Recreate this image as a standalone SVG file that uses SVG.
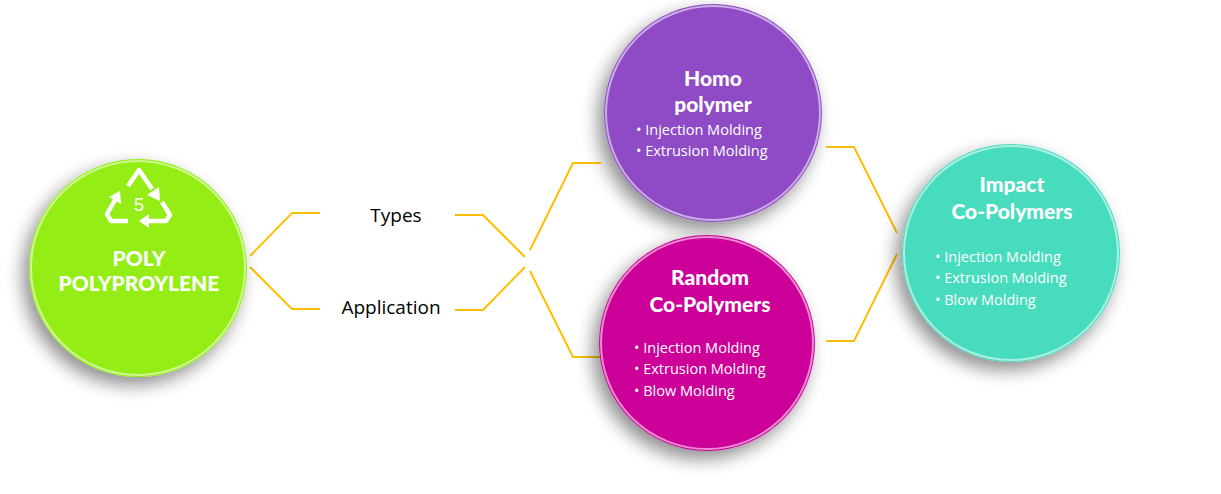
<svg xmlns="http://www.w3.org/2000/svg" width="1221" height="494" viewBox="0 0 1221 494">
<style>
.t{font-family:Lato,"Open Sans",sans-serif;font-weight:900;fill:#fff;text-anchor:middle;font-size:21px}
.b{font-family:"Open Sans","Liberation Sans",sans-serif;fill:#fff;font-size:14.5px}
.l{font-family:"Open Sans","Liberation Sans",sans-serif;fill:#000;font-size:19px;text-anchor:middle}
.c{fill:none;stroke:#FFBF00;stroke-width:2}
.rim{fill:none;stroke:#fff;stroke-opacity:.55;stroke-width:2}
</style>
<defs>
<filter id="sh" x="-30%" y="-30%" width="160%" height="160%">
<feGaussianBlur in="SourceAlpha" stdDeviation="9"/>
<feOffset dx="-6" dy="8"/>
<feComponentTransfer><feFuncA type="linear" slope="0.45"/></feComponentTransfer>
<feMerge><feMergeNode/><feMergeNode in="SourceGraphic"/></feMerge>
</filter>
</defs>
<g id="connectors">
<polyline class="c" points="250,256 292,213 320,213"/>
<polyline class="c" points="250,267 292,309 320,309"/>
<polyline class="c" points="455,215 483,215 525,257"/>
<polyline class="c" points="455,310 483,310 525,267"/>
<polyline class="c" points="530,250 573,163 601,163"/>
<polyline class="c" points="530,271 573,357 601,357"/>
<polyline class="c" points="826,147 854,147 897,233"/>
<polyline class="c" points="826,341 854,341 897,254"/>
</g>
<g id="pp">
<circle cx="138" cy="268" r="109" fill="#94EE15" filter="url(#sh)"/>
<circle cx="138" cy="268" r="107" class="rim"/>
<g fill="none" stroke="#fff" stroke-width="4.5" stroke-linejoin="round">
<polyline points="128,186 139,170 150,186 152,189"/>
<polyline points="162,202 170,215 166,221 148,221"/>
<polyline points="128,221 111,221 107,214 115,200"/>
</g>
<g fill="#fff">
<polygon points="160,201 147,195 159,187"/>
<polygon points="139,221 149,214 149,228"/>
<polygon points="120,191 121,204 109,197"/>
</g>
<text x="139" y="211" font-family="Liberation Sans,sans-serif" font-size="18" fill="#fff" text-anchor="middle">5</text>
<text class="t" x="139" y="266" font-size="17">POLY</text>
<text class="t" x="139" y="291" font-size="17">POLYPROYLENE</text>
</g>
<g id="types"><text class="l" x="396" y="222">Types</text></g>
<g id="application"><text class="l" x="391" y="314">Application</text></g>
<g id="homo">
<circle cx="713" cy="113" r="109" fill="#8E4CC5" filter="url(#sh)"/>
<circle cx="713" cy="113" r="107" class="rim"/>
<text class="t" x="713" y="86">Homo</text>
<text class="t" x="713" y="112">polymer</text>
<text class="b" x="636" y="135">• Injection Molding</text>
<text class="b" x="636" y="156">• Extrusion Molding</text>
</g>
<g id="random">
<circle cx="707" cy="343" r="108" fill="#CC0099" filter="url(#sh)"/>
<circle cx="707" cy="343" r="106" class="rim"/>
<text class="t" x="710" y="285">Random</text>
<text class="t" x="710" y="312">Co-Polymers</text>
<text class="b" x="634" y="353">• Injection Molding</text>
<text class="b" x="634" y="374">• Extrusion Molding</text>
<text class="b" x="634" y="396">• Blow Molding</text>
</g>
<g id="impact">
<circle cx="1011" cy="253" r="109" fill="#47DCBE" filter="url(#sh)"/>
<circle cx="1011" cy="253" r="107" class="rim"/>
<text class="t" x="1012" y="192">Impact</text>
<text class="t" x="1012" y="219">Co-Polymers</text>
<text class="b" x="935" y="262">• Injection Molding</text>
<text class="b" x="935" y="283">• Extrusion Molding</text>
<text class="b" x="935" y="305">• Blow Molding</text>
</g>
</svg>
